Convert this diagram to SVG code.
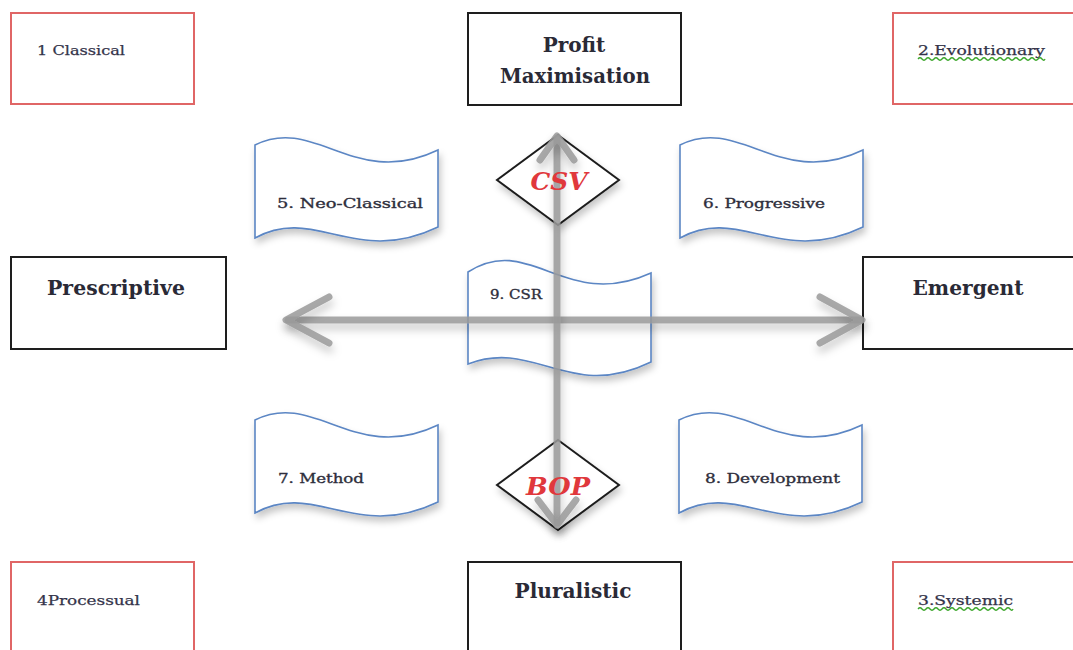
<svg xmlns="http://www.w3.org/2000/svg" width="1073" height="650" viewBox="0 0 1073 650">
<style>
.corner{fill:#fff;stroke:#e06666;stroke-width:2}
.main{fill:#fff;stroke:#1e1e1e;stroke-width:2}
.wave{fill:#fff;stroke:#5b86c4;stroke-width:1.6;filter:url(#sh)}
.dia{fill:#fff;stroke:#1e1e1e;stroke-width:2;filter:url(#sh)}
.big{font-family:"DejaVu Serif","Liberation Serif",serif;font-weight:bold;font-size:20px;fill:#2a2a36;text-anchor:middle}
.lab{font-family:"DejaVu Serif","Liberation Serif",serif;font-size:13.5px;fill:#2e2e3c;stroke:#2e2e3c;stroke-width:0.35}
.cl{font-family:"DejaVu Serif","Liberation Serif",serif;font-size:13px;fill:#34344a;stroke:#34344a;stroke-width:0.25}
.red{font-family:"DejaVu Serif","Liberation Serif",serif;font-weight:bold;font-style:italic;font-size:25px;fill:#e0383c;text-anchor:middle}
.arr{fill:none;stroke:#9a9a9a;stroke-opacity:0.85;stroke-width:7;stroke-linecap:round;stroke-linejoin:round;filter:url(#ash)}
.sq{fill:none;stroke:#3aa52a;stroke-width:1.3}
</style>
<defs>
<filter id="sh" x="-20%" y="-20%" width="140%" height="150%">
<feDropShadow dx="2" dy="5" stdDeviation="3.5" flood-color="#000" flood-opacity="0.22"/>
</filter>
<filter id="ash" filterUnits="userSpaceOnUse" x="0" y="0" width="1073" height="650">
<feDropShadow dx="1" dy="6" stdDeviation="4" flood-color="#000" flood-opacity="0.25"/>
</filter>
</defs>
<rect width="1073" height="650" fill="#fff"/>

<g id="classical"><rect class="corner" x="11" y="13" width="183" height="91"/><text class="cl" x="37" y="55" textLength="88" lengthAdjust="spacingAndGlyphs">1 Classical</text></g>
<g id="evolutionary"><rect class="corner" x="893" y="13" width="190" height="91"/><text class="cl" x="918" y="55" textLength="127" lengthAdjust="spacingAndGlyphs">2.Evolutionary</text><path class="sq" d="M918 59 q2 -2.5 4 0 t4 0 t4 0 t4 0 t4 0 t4 0 t4 0 t4 0 t4 0 t4 0 t4 0 t4 0 t4 0 t4 0 t4 0 t4 0 t4 0 t4 0 t4 0 t4 0 t4 0 t4 0 t4 0 t4 0 t4 0 t4 0 t4 0 t4 0 t4 0 t4 0 t4 0 t3 0"/></g>
<g id="processual"><rect class="corner" x="11" y="562" width="183" height="100"/><text class="cl" x="37" y="605" textLength="103" lengthAdjust="spacingAndGlyphs">4Processual</text></g>
<g id="systemic"><rect class="corner" x="893" y="562" width="190" height="100"/><text class="cl" x="918" y="605" textLength="95" lengthAdjust="spacingAndGlyphs">3.Systemic</text><path class="sq" d="M918 609 q2 -2.5 4 0 t4 0 t4 0 t4 0 t4 0 t4 0 t4 0 t4 0 t4 0 t4 0 t4 0 t4 0 t4 0 t4 0 t4 0 t4 0 t4 0 t4 0 t4 0 t4 0 t4 0 t4 0 t4 0 t3 0"/></g>

<g id="profit"><rect class="main" x="468" y="13" width="213" height="92"/><text class="big" x="574" y="52">Profit</text><text class="big" x="575" y="83" textLength="150" lengthAdjust="spacingAndGlyphs">Maximisation</text></g>
<g id="prescriptive"><rect class="main" x="11" y="257" width="215" height="92"/><text class="big" x="116" y="295" textLength="138" lengthAdjust="spacingAndGlyphs">Prescriptive</text></g>
<g id="emergent"><rect class="main" x="863" y="257" width="220" height="92"/><text class="big" x="968" y="295" textLength="111" lengthAdjust="spacingAndGlyphs">Emergent</text></g>
<g id="pluralistic"><rect class="main" x="468" y="562" width="213" height="100"/><text class="big" x="573" y="598" textLength="117" lengthAdjust="spacingAndGlyphs">Pluralistic</text></g>

<g id="neoclassical"><path class="wave" d="M255 145 C315 115 355 190 438 150 L438 227 C355 267 315 205 255 238 Z"/><text class="lab" x="277" y="208" textLength="146" lengthAdjust="spacingAndGlyphs">5. Neo-Classical</text></g>
<g id="progressive"><path class="wave" d="M680 145 C740 115 780 190 863 150 L863 227 C780 267 740 205 680 238 Z"/><text class="lab" x="703" y="208" textLength="122" lengthAdjust="spacingAndGlyphs">6. Progressive</text></g>
<g id="method"><path class="wave" d="M255 420 C315 390 355 465 438 425 L438 502 C355 542 315 480 255 513 Z"/><text class="lab" x="278" y="483" textLength="86" lengthAdjust="spacingAndGlyphs">7. Method</text></g>
<g id="development"><path class="wave" d="M679 420 C739 390 779 465 862 425 L862 502 C779 542 739 480 679 513 Z"/><text class="lab" x="705" y="483" textLength="135" lengthAdjust="spacingAndGlyphs">8. Development</text></g>
<g id="csr"><path class="wave" d="M468 272 C530 232 565 312 651 273 L651 362 C569 402 535 338 468 364 Z"/><text class="lab" x="490" y="299" textLength="52" lengthAdjust="spacingAndGlyphs">9. CSR</text></g>

<g id="csv-node"><path class="dia" d="M558 135 L619 180 L558 225 L497 180 Z"/></g>
<g id="bop-node"><path class="dia" d="M558 440 L619 485 L558 530 L497 485 Z"/></g>

<g id="connectors">
<line class="arr" x1="288" y1="320" x2="860" y2="320"/>
<polyline class="arr" points="329,297 286,320 329,343"/>
<polyline class="arr" points="820,297 862,320 820,343"/>
<line class="arr" x1="557" y1="138" x2="557" y2="523"/>
<polyline class="arr" points="540,160 557,136 574,160"/>
<polyline class="arr" points="538,500 557,525 576,500"/>
</g>

<g id="labels">
<text class="red" x="559" y="190" textLength="57" lengthAdjust="spacingAndGlyphs">CSV</text>
<text class="red" x="558" y="495" textLength="64" lengthAdjust="spacingAndGlyphs">BOP</text>
</g>
</svg>
